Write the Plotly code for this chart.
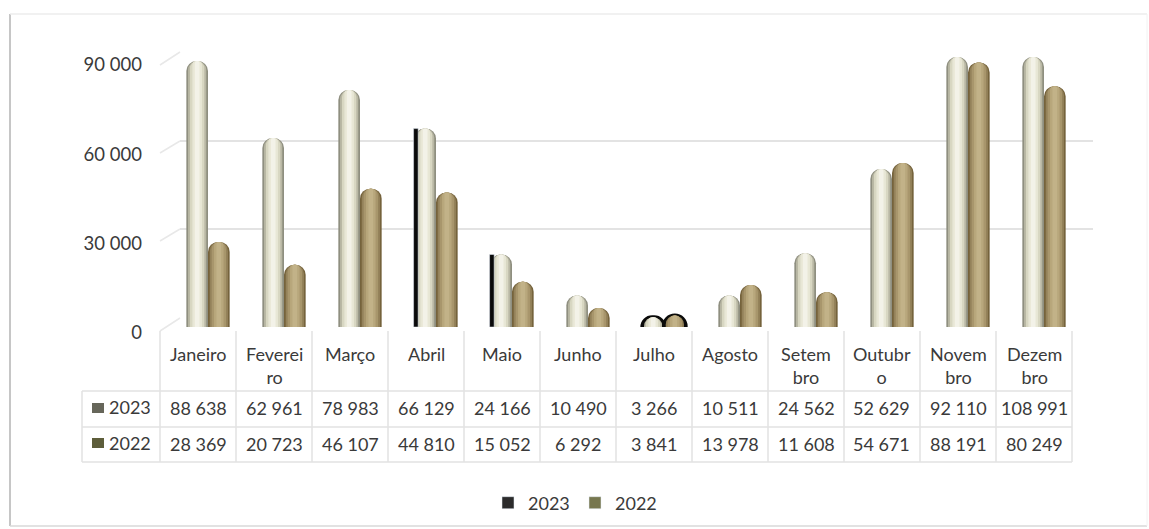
import plotly.graph_objects as go

W, H = 1149, 529

months = ['Janeiro', 'Fevereiro', 'Março', 'Abril', 'Maio', 'Junho', 'Julho',
          'Agosto', 'Setembro', 'Outubro', 'Novembro', 'Dezembro']
month_labels = ['Janeiro', 'Feverei<br>ro', 'Março', 'Abril', 'Maio', 'Junho', 'Julho',
                'Agosto', 'Setem<br>bro', 'Outubr<br>o', 'Novem<br>bro', 'Dezem<br>bro']
values_2023 = [88638, 62961, 78983, 66129, 24166, 10490, 3266, 10511, 24562, 52629, 92110, 108991]
values_2022 = [28369, 20723, 46107, 44810, 15052, 6292, 3841, 13978, 11608, 54671, 88191, 80249]
y_ticks = [0, 30000, 60000, 90000]
y_tick_labels = ['0', '30 000', '60 000', '90 000']
y_max = 90000

# the pen strokes on the scan, left of the Abril and Maio columns
pen_stroke = [None, None, None, 66129, 24166, None, None, None, None, None, None, None]

shades_2023 = ['#8f8f80', '#b9b8a4', '#d8d7c2', '#e8e7d6', '#f3f2e8']
shades_2022 = ['#75633c', '#94825a', '#a8966c', '#b8a77c', '#c2b288']
widths = [1.0, 0.84, 0.66, 0.44, 0.22]
bar_w = 0.285

FONT = 'Lato'
TEXT = '#3a3a3a'
LINE = '#e2e2e2'


def px_x(p):
    return p / W


def px_y(p):
    return 1 - p / H


def clip(values):
    return [min(v, y_max) for v in values]


fig = go.Figure()

# gridlines live on the back wall, so they get their own axis
fig.add_trace(go.Scatter(x=months, y=[None] * 12, xaxis='x', yaxis='y', showlegend=False, hoverinfo='skip'))

for values, shades, start in [(values_2023, shades_2023, -bar_w), (values_2022, shades_2022, 0)]:
    for frac, color in zip(widths, shades):
        line_w = [4 if (m == 'Julho' and frac == 1.0) else 0 for m in months]
        fig.add_trace(go.Bar(
            x=months, y=clip(values), xaxis='x2', yaxis='y2',
            width=bar_w * frac, offset=start + bar_w * (1 - frac) / 2,
            marker=dict(color=color, cornerradius='50%', line=dict(color='#0a0a0a', width=line_w)),
            showlegend=False, hoverinfo='skip'
        ))

fig.add_trace(go.Bar(
    x=months, y=pen_stroke, xaxis='x2', yaxis='y2', width=0.06, offset=-bar_w - 0.01,
    marker=dict(color='#0a0a0a'), showlegend=False, hoverinfo='skip'
))

# empty traces, only for the legend keys
fig.add_trace(go.Bar(x=months, y=[None] * 12, xaxis='x2', yaxis='y2', name='2023', marker=dict(color='#2b2b2b')))
fig.add_trace(go.Bar(x=months, y=[None] * 12, xaxis='x2', yaxis='y2', name='2022', marker=dict(color='#77774f')))

# carries the left tick labels
fig.add_trace(go.Scatter(x=months, y=[None] * 12, xaxis='x3', yaxis='y3', showlegend=False, hoverinfo='skip'))

shapes = []


def add_line(x0, y0, x1, y1, color=LINE, width=1.5):
    shapes.append(dict(type='line', xref='paper', yref='paper', layer='below',
                       x0=px_x(x0), y0=px_y(y0), x1=px_x(x1), y1=px_y(y1),
                       line=dict(color=color, width=width)))


# outer frame
add_line(10, 14, 10, 526, '#c6c6c6', 2)
add_line(10, 14, 1147, 14, '#ececec', 1.5)
add_line(10, 526, 1147, 526, '#d8d8d8', 1.5)
add_line(1147, 14, 1147, 526, '#f2f2f2', 1)

# slanted floor and wall corners
for y_front, y_back in [(331, 318), (241, 229), (153, 141), (65, 52)]:
    add_line(160, y_front, 180, y_back, '#e8e8e8', 1.5)

# data table
col_w = 76
table_left, label_left = 160, 82
header_top, row1_top, row2_top, table_bottom = 331, 391, 427, 462
for i in range(13):
    add_line(table_left + i * col_w, header_top, table_left + i * col_w, table_bottom)
add_line(label_left, row1_top, label_left, table_bottom)
for y in [row1_top, row2_top, table_bottom]:
    add_line(label_left, y, table_left + 12 * col_w, y)

# colour keys in the table's first column
for y, color in [(408, '#66665a'), (443, '#5d5d3a')]:
    shapes.append(dict(type='rect', xref='paper', yref='paper', layer='above',
                       x0=px_x(92), x1=px_x(104), y0=px_y(y - 5), y1=px_y(y + 5),
                       fillcolor=color, line=dict(width=0)))

annotations = []


def add_text(x, y, text, size=18):
    annotations.append(dict(xref='paper', yref='paper', x=px_x(x), y=px_y(y), text=text, showarrow=False,
                            xanchor='center', yanchor='middle', font=dict(family=FONT, size=size, color=TEXT)))


for i, label in enumerate(month_labels):
    cx = table_left + (i + 0.5) * col_w
    add_text(cx, 366 if '<br>' in label else 354, label, 18)
    add_text(cx, 408, f'{values_2023[i]:,}'.replace(',', ' '))
    add_text(cx, 444, f'{values_2022[i]:,}'.replace(',', ' '))

add_text(130, 407, '2023', 18)
add_text(130, 443, '2022', 18)

hidden_x = dict(showgrid=False, zeroline=False, showticklabels=False, ticks='', showline=False, fixedrange=True)

fig.update_layout(
    width=W, height=H,
    margin=dict(l=0, r=0, t=0, b=0, autoexpand=False),
    paper_bgcolor='white', plot_bgcolor='rgba(0,0,0,0)',
    barmode='overlay',
    shapes=shapes, annotations=annotations,
    xaxis=dict(domain=[px_x(180), px_x(1093)], categoryorder='array', categoryarray=months, **hidden_x),
    yaxis=dict(domain=[px_y(318), px_y(52)], range=[0, y_max], tickvals=y_ticks, showticklabels=False,
               showgrid=True, gridcolor='#e3e3e3', gridwidth=1.5, zeroline=False, fixedrange=True),
    xaxis2=dict(domain=[px_x(170), px_x(1082)], categoryorder='array', categoryarray=months,
                range=[-0.5, 11.5], **hidden_x),
    yaxis2=dict(domain=[px_y(327), px_y(57)], range=[0, y_max], showgrid=False, zeroline=False,
                showticklabels=False, fixedrange=True),
    xaxis3=dict(domain=[px_x(143), px_x(160)], **hidden_x),
    yaxis3=dict(domain=[px_y(333), px_y(65)], range=[0, y_max], tickvals=y_ticks, ticktext=y_tick_labels,
                showgrid=False, zeroline=False, ticks='', tickfont=dict(family=FONT, size=18.5, color=TEXT),
                anchor='x3', fixedrange=True),
    legend=dict(orientation='h', x=px_x(575), xanchor='center', y=px_y(503), yanchor='middle',
                font=dict(family=FONT, size=18, color=TEXT), itemwidth=30, entrywidth=42,
                bgcolor='rgba(0,0,0,0)'),
)

fig.write_html("out.html", config=dict(displayModeBar=False),
               post_script="document.body.style.margin='0';")
